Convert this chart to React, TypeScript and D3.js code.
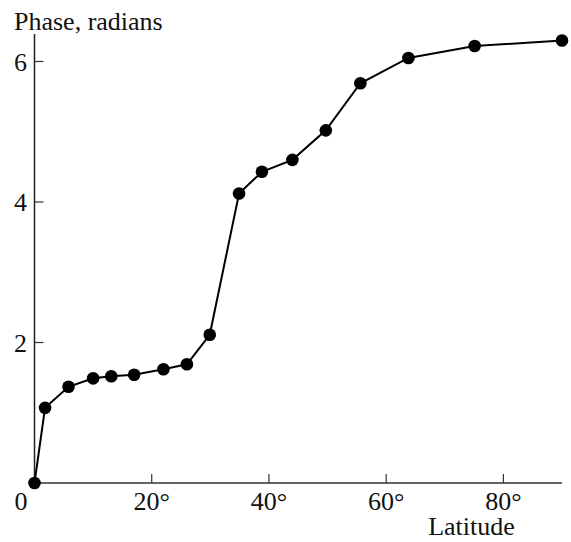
import React from "react";
import * as d3 from "d3";

const latitudes = [0, 1.8, 5.8, 10.0, 13.1, 17.0, 22.0, 26.0, 29.9, 34.9, 38.8, 44.0, 49.7, 55.6, 63.8, 75.1, 90.0];
const phases = [0, 1.07, 1.37, 1.49, 1.52, 1.54, 1.62, 1.69, 2.11, 4.12, 4.43, 4.60, 5.02, 5.69, 6.05, 6.22, 6.30];
const xTicks = [20, 40, 60, 80];
const yTicks = [2, 4, 6];

const W = 571;
const H = 542;
const x0 = 34.5;
const x1 = 562;
const yBase = 483;
const yTop = 34;

export default function App() {
  const x = d3.scaleLinear().domain([0, 90]).range([x0, x1]);
  const y = d3.scaleLinear().domain([0, 6]).range([yBase, yBase - 6 * 70.25]);
  const pts = latitudes.map((lat, i) => [x(lat), y(phases[i])] as [number, number]);
  const line = d3.line()(pts) || "";
  const font = "'Liberation Serif', 'Times New Roman', serif";
  const fs = 26;
  return (
    <svg width={W} height={H} style={{ position: "absolute", left: 0, top: 0 }}>
      <rect width={W} height={H} fill="white" />
      {/* axes */}
      <line x1={x0} y1={yTop} x2={x0} y2={yBase} stroke="#222" strokeWidth={1.5} />
      <line x1={x0} y1={yBase} x2={x1} y2={yBase} stroke="#333" strokeWidth={1.5} />
      {xTicks.map((t) => (
        <g key={"x" + t}>
          <line x1={x(t)} y1={yBase} x2={x(t)} y2={yBase - 9} stroke="#333" strokeWidth={1.2} />
          <text x={x(t)} y={510} textAnchor="middle" fontFamily={font} fontSize={fs} fill="#111">
            {t}°
          </text>
        </g>
      ))}
      <text x={21} y={510} textAnchor="middle" fontFamily={font} fontSize={fs} fill="#111">0</text>
      {yTicks.map((t) => (
        <g key={"y" + t}>
          <line x1={x0} y1={y(t)} x2={x0 + 9} y2={y(t)} stroke="#333" strokeWidth={1.2} />
          <text x={27} y={y(t) + 9} textAnchor="end" fontFamily={font} fontSize={fs} fill="#111">
            {t}
          </text>
        </g>
      ))}
      <text x={14} y={30} fontFamily={font} fontSize={fs} fill="#111">Phase, radians</text>
      <text x={471.5} y={535} textAnchor="middle" fontFamily={font} fontSize={fs} fill="#111">Latitude</text>
      <path d={line} fill="none" stroke="#000" strokeWidth={2} />
      {pts.map((p, i) => (
        <circle key={i} cx={p[0]} cy={p[1]} r={6.3} fill="#000" />
      ))}
    </svg>
  );
}
